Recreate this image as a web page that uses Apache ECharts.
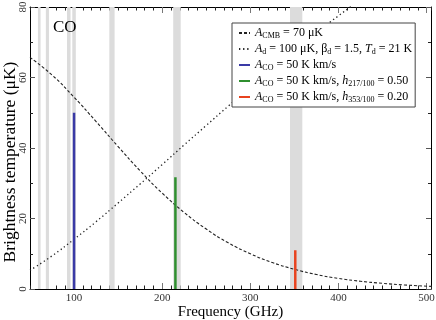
<!DOCTYPE html>
<html>
<head>
<meta charset="utf-8">
<script src="https://cdn.jsdelivr.net/npm/echarts@6/dist/echarts.min.js"></script>
<style>
html,body{margin:0;padding:0;background:#fff;}
#chart01{width:436px;height:320px;}
</style>
</head>
<body>
<div id="chart01"></div>
<script>
// frequency (GHz) and brightness (uK)
var freqCmb = [50, 75, 100, 125, 150, 175, 200, 225, 250, 275, 300, 325, 350, 375, 400, 425, 450, 475, 505];
var tCmb = [65.7, 60.7, 54.4, 47.5, 40.4, 33.5, 27.2, 21.7, 17.0, 13.1, 10.0, 7.5, 5.6, 4.1, 3.0, 2.2, 1.6, 1.14, 0.75];
var freqDust = [50, 75, 100, 125, 150, 175, 200, 225, 250, 275, 300, 325, 350, 375, 400, 425];
var tDust = [5.3, 9.4, 14.1, 19.1, 24.4, 29.8, 35.3, 40.9, 46.4, 51.9, 57.3, 62.6, 67.7, 72.7, 77.5, 82.1];
// CO lines
var coFreq = [100, 215, 351];
var coPeak = [50, 31.7, 11];
var coColor = ['#3a3aa6', '#2f8f2f', '#e8431f'];
// grey bands (GHz)
var bandLo = [59, 68, 92, 98, 140, 212.5, 345];
var bandHi = [62, 71.5, 96, 102, 146, 221, 359];
var xMajor = [100, 200, 300, 400, 500];

var serif = 'Liberation Serif';
var names = ['cmb', 'dust', 'co1', 'co2', 'co3'];
var legendText = {
	cmb: '{i|A}{s|CMB} = 70 μK',
	dust: '{i|A}{s|d} = 100 μK, β{s|d} = 1.5, {i|T}{s|d} = 21 K',
	co1: '{i|A}{s|CO} = 50 K km/s',
	co2: '{i|A}{s|CO} = 50 K km/s, {i|h}{s|217/100} = 0.50',
	co3: '{i|A}{s|CO} = 50 K km/s, {i|h}{s|353/100} = 0.20'
};

function pairs(xs, ys){
	var out = [];
	for(var i=0;i<xs.length;i++){
		out.push([xs[i], ys[i]]);
	}
	return out;
}

var bands = [];
for(var i=0;i<bandLo.length;i++){
	bands.push([{xAxis: bandLo[i]}, {xAxis: bandHi[i]}]);
}

function xAx(pos, major, labels){
	var a = {
		type: 'value',
		position: pos,
		min: 50,
		max: 505,
		interval: 10,
		splitLine: {show: false},
		axisLine: {show: !major, onZero: false, lineStyle: {color: '#000', width: 1}},
		axisTick: {show: true, inside: true, length: major ? 6 : 3.5, lineStyle: {color: major ? '#777' : '#222'}},
		axisLabel: {show: false}
	};
	if(major){
		a.axisTick.customValues = xMajor;
	}
	if(labels){
		a.axisLabel = {show: true, customValues: xMajor, fontFamily: serif, fontSize: 11, color: '#333', margin: 4};
		a.name = 'Frequency (GHz)';
		a.nameLocation = 'middle';
		a.nameGap = 16;
		a.nameMoveOverlap = false;
		a.nameTextStyle = {fontFamily: serif, fontSize: 15, color: '#000'};
	}
	return a;
}

function yAx(pos, labels){
	var a = {
		type: 'value',
		position: pos,
		min: 0,
		max: 80,
		interval: 20,
		splitLine: {show: false},
		axisLine: {show: true, onZero: false, lineStyle: {color: '#000', width: 1}},
		axisTick: {show: true, inside: true, length: 5, lineStyle: {color: '#555'}},
		minorTick: {show: true, splitNumber: 2, length: 3, lineStyle: {color: '#222'}},
		axisLabel: {show: false}
	};
	if(labels){
		a.axisLabel = {show: true, rotate: 90, fontFamily: serif, fontSize: 11, color: '#333', margin: 1};
		a.name = 'Brightness temperature (μK)';
		a.nameLocation = 'middle';
		a.nameGap = 11;
		a.nameMoveOverlap = false;
		a.nameTextStyle = {fontFamily: serif, fontSize: 17.5, color: '#000', padding: [0, 28, 0, 0]};
	}
	return a;
}

var series = [
	{
		name: 'cmb', type: 'line', data: pairs(freqCmb, tCmb), symbol: 'none', smooth: true,
		lineStyle: {color: '#222', width: 1.1, type: [3, 2]},
		itemStyle: {color: '#222'},
		markArea: {silent: true, itemStyle: {color: '#dcdcdc'}, data: bands},
		z: 3
	},
	{
		name: 'dust', type: 'line', data: pairs(freqDust, tDust), symbol: 'none', smooth: true,
		lineStyle: {color: '#222', width: 1.3, type: [1.3, 2.8]},
		itemStyle: {color: '#222'},
		z: 3
	}
];
for(var k=0;k<coFreq.length;k++){
	series.push({
		name: names[2+k], type: 'line', symbol: 'none',
		data: [[coFreq[k], 0], [coFreq[k], coPeak[k]]],
		lineStyle: {color: coColor[k], width: 2.5},
		itemStyle: {color: coColor[k]},
		z: 4
	});
}

var option = {
	animation: false,
	backgroundColor: '#fff',
	title: {
		text: 'CO', left: 48, top: 14,
		textStyle: {fontFamily: serif, fontSize: 17, fontWeight: 'normal', color: '#000'}
	},
	grid: {left: 30, right: 5, top: 7, bottom: 31, containLabel: false, outerBoundsMode: 'none'},
	xAxis: [xAx('bottom', false, true), xAx('bottom', true, false), xAx('top', false, false), xAx('top', true, false)],
	yAxis: [yAx('left', true), yAx('right', false)],
	legend: {
		orient: 'vertical',
		left: 232, top: 23,
		padding: [3, 3, 3, 6],
		itemGap: 2,
		itemWidth: 11,
		itemHeight: 10,
		borderColor: '#444',
		borderWidth: 1,
		backgroundColor: '#fff',
		itemStyle: {opacity: 0},
		data: names,
		formatter: function(n){ return legendText[n]; },
		textStyle: {
			fontFamily: serif, fontSize: 12, color: '#000', lineHeight: 14,
			rich: {
				i: {fontFamily: serif, fontSize: 12, fontStyle: 'italic', color: '#000', lineHeight: 14},
				s: {fontFamily: serif, fontSize: 8, color: '#000', lineHeight: 14, verticalAlign: 'bottom'}
			}
		}
	},
	series: series
};

var myChart = echarts.init(document.getElementById('chart01'));
myChart.setOption(option);
</script>
</body>
</html>
